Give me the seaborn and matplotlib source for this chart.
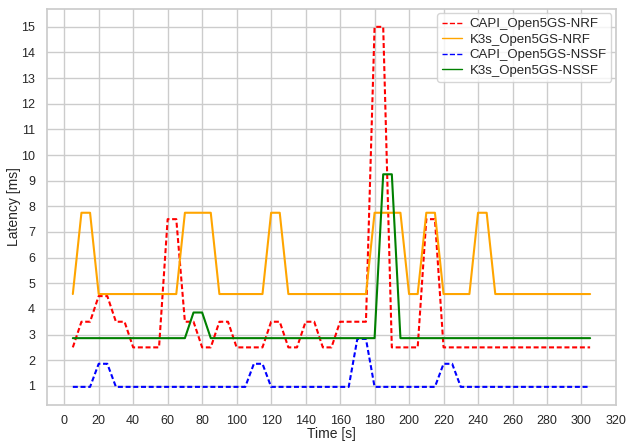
import matplotlib
matplotlib.use("Agg")
import matplotlib.pyplot as plt
from matplotlib.ticker import MultipleLocator
from matplotlib.lines import Line2D
import seaborn as sns
import pandas as pd

time_s = [5, 10, 15, 20, 25, 30, 35, 40, 45, 50, 55, 60, 65, 70, 75, 80, 85, 90, 95, 100,
          105, 110, 115, 120, 125, 130, 135, 140, 145, 150, 155, 160, 165, 170, 175, 180,
          185, 190, 195, 200, 205, 210, 215, 220, 225, 230, 235, 240, 245, 250, 255, 260,
          265, 270, 275, 280, 285, 290, 295, 300, 305]

capi_nrf = [2.5, 3.5, 3.5, 4.5, 4.5, 3.5, 3.5, 2.5, 2.5, 2.5, 2.5, 7.5, 7.5, 3.5, 3.5, 2.5,
            2.5, 3.5, 3.5, 2.5, 2.5, 2.5, 2.5, 3.5, 3.5, 2.5, 2.5, 3.5, 3.5, 2.5, 2.5, 3.5,
            3.5, 3.5, 3.5, 15.0, 15.0, 2.5, 2.5, 2.5, 2.5, 7.5, 7.5, 2.5, 2.5, 2.5, 2.5, 2.5,
            2.5, 2.5, 2.5, 2.5, 2.5, 2.5, 2.5, 2.5, 2.5, 2.5, 2.5, 2.5, 2.5]

k3s_nrf = [4.58, 7.75, 7.75, 4.58, 4.58, 4.58, 4.58, 4.58, 4.58, 4.58, 4.58, 4.58, 4.58,
           7.75, 7.75, 7.75, 7.75, 4.58, 4.58, 4.58, 4.58, 4.58, 4.58, 7.75, 7.75, 4.58,
           4.58, 4.58, 4.58, 4.58, 4.58, 4.58, 4.58, 4.58, 4.58, 7.75, 7.75, 7.75, 7.75,
           4.58, 4.58, 7.75, 7.75, 4.58, 4.58, 4.58, 4.58, 7.75, 7.75, 4.58, 4.58, 4.58,
           4.58, 4.58, 4.58, 4.58, 4.58, 4.58, 4.58, 4.58, 4.58]

capi_nssf = [0.96, 0.96, 0.96, 1.86, 1.86, 0.96, 0.96, 0.96, 0.96, 0.96, 0.96, 0.96, 0.96,
             0.96, 0.96, 0.96, 0.96, 0.96, 0.96, 0.96, 0.96, 1.86, 1.86, 0.96, 0.96, 0.96,
             0.96, 0.96, 0.96, 0.96, 0.96, 0.96, 0.96, 2.83, 2.83, 0.96, 0.96, 0.96, 0.96,
             0.96, 0.96, 0.96, 0.96, 1.86, 1.86, 0.96, 0.96, 0.96, 0.96, 0.96, 0.96, 0.96,
             0.96, 0.96, 0.96, 0.96, 0.96, 0.96, 0.96, 0.96, 0.96]

k3s_nssf = [2.86, 2.86, 2.86, 2.86, 2.86, 2.86, 2.86, 2.86, 2.86, 2.86, 2.86, 2.86, 2.86,
            2.86, 3.86, 3.86, 2.86, 2.86, 2.86, 2.86, 2.86, 2.86, 2.86, 2.86, 2.86, 2.86,
            2.86, 2.86, 2.86, 2.86, 2.86, 2.86, 2.86, 2.86, 2.86, 2.86, 9.25, 9.25, 2.86,
            2.86, 2.86, 2.86, 2.86, 2.86, 2.86, 2.86, 2.86, 2.86, 2.86, 2.86, 2.86, 2.86,
            2.86, 2.86, 2.86, 2.86, 2.86, 2.86, 2.86, 2.86, 2.86]

series_names = ["CAPI_Open5GS-NRF", "K3s_Open5GS-NRF", "CAPI_Open5GS-NSSF", "K3s_Open5GS-NSSF"]
series_values = [capi_nrf, k3s_nrf, capi_nssf, k3s_nssf]
series_colors = ["red", "orange", "blue", "green"]
series_dashed = [True, False, True, False]

x_ticks = list(range(0, 321, 20))

rows = []
for name, vals in zip(series_names, series_values):
    for t, v in zip(time_s, vals):
        rows.append({"Time": t, "Latency": v, "Series": name})
df = pd.DataFrame(rows)

sns.set_theme(style="whitegrid")
plt.rcParams["font.family"] = ["Liberation Sans", "DejaVu Sans"]

fig, ax = plt.subplots(figsize=(6.26, 4.42), dpi=100)
fig.subplots_adjust(left=0.075, right=0.984, top=0.98, bottom=0.084)

palette = dict(zip(series_names, series_colors))
dashes = {n: ((2.4, 1.3) if d else "") for n, d in zip(series_names, series_dashed)}

sns.lineplot(data=df, x="Time", y="Latency", hue="Series", style="Series",
             hue_order=series_names, style_order=series_names,
             palette=palette, dashes=dashes, linewidth=1.5, legend=False, ax=ax)

handles = [Line2D([0], [0], color=c, lw=1.0, linestyle=("--" if d else "-"))
           for c, d in zip(series_colors, series_dashed)]
ax.legend(handles, series_names, loc="upper right", fontsize=9.5, frameon=True,
          borderaxespad=0.35, handlelength=1.5, handletextpad=0.6, labelspacing=0.25,
          borderpad=0.35)

ax.set_xticks(x_ticks)
ax.yaxis.set_major_locator(MultipleLocator(1))
ax.tick_params(axis="x", labelsize=9, pad=1.5)
ax.tick_params(axis="y", labelsize=9, pad=2.5)
ax.set_xlabel("Time [s]", fontsize=10, labelpad=0)
ax.set_ylabel("Latency [ms]", fontsize=10, labelpad=0)

fig.savefig("out.png", dpi=100)
